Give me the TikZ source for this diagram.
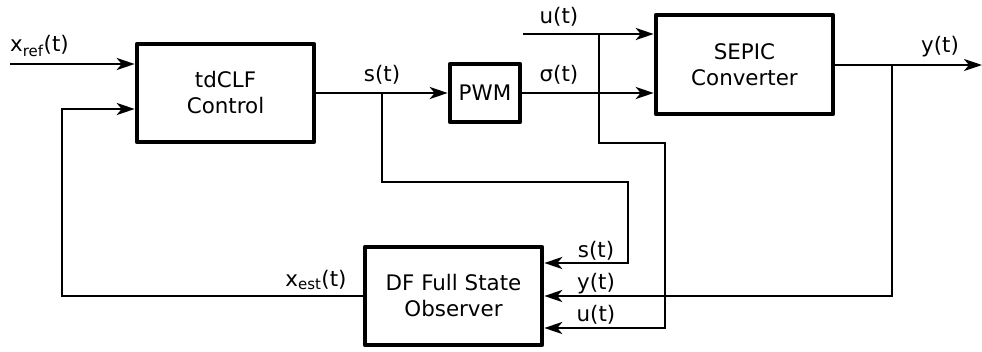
\documentclass[tikz,border=0pt]{standalone}
\usepackage{fontspec}
\setmainfont{DejaVu Sans}
\usetikzlibrary{arrows.meta}
\begin{document}
\begin{tikzpicture}[x=1pt,y=-1pt,
  blk/.style={draw, line width=4.6pt, line join=round, minimum width=177pt, minimum height=98pt,
    align=center, inner sep=0pt, font=\fontsize{21.4}{26}\selectfont},
  sig/.style={line width=2.5pt},
  arr/.style={sig, -{Stealth[length=18pt,width=12pt,inset=5pt]}},
  lbl/.style={inner sep=0pt, font=\fontsize{21.4}{26}\selectfont}]
\useasboundingbox (0,0) rectangle (982,351);
% blocks
\node[blk] (ctrl) at (225.5,93) {tdCLF\\Control};
\node[blk, minimum width=70pt, minimum height=58pt] (pwm) at (485,93) {PWM};
\node[blk, minimum height=99pt] (sepic) at (744.5,64.5) {SEPIC\\Converter};
\node[blk] (obs) at (453.5,296) {DF Full State\\Observer};
% coordinates
\coordinate (xin) at (10,64);
\coordinate (sj) at (382,93);
\coordinate (sA) at (382,182);
\coordinate (sB) at (628,182);
\coordinate (uin) at (523,34);
\coordinate (uj) at (599,34);
\coordinate (uA) at (599,143);
\coordinate (uB) at (665,143);
\coordinate (yout) at (982,65);
\coordinate (yj) at (892,65);
\coordinate (fb) at (62,296);
% connectors
\draw[arr] (xin) -- (xin -| ctrl.west);
\draw[arr] (ctrl.east) -- (pwm.west);
\draw[arr] (pwm.east) -- (pwm.east -| sepic.west);
\draw[arr] (uin) -- (uin -| sepic.west);
\draw[arr] (sepic.east |- yout) -- (yout);
\draw[arr] (sj) -- (sA) -- (sB) |- ([yshift=33pt]obs.east);
\draw[arr] (uj) -- (uA) -- (uB) |- ([yshift=-32pt]obs.east);
\draw[arr] (yj) |- (obs.east);
\draw[arr] (obs.west) -- (fb) |- ([yshift=-16pt]ctrl.west);
% labels
\node[lbl, anchor=west] (lxref) at (10,46) {x\textsubscript{ref}(t)};
\node[lbl] (ls) at (382,75) {s(t)};
\node[lbl] (lsig) at (559,75) {σ(t)};
\node[lbl] (lu) at (559,17) {u(t)};
\node[lbl] (ly) at (940,47) {y(t)};
\node[lbl] (lxest) at (316,280) {x\textsubscript{est}(t)};
\node[lbl] (los) at (596,251) {s(t)};
\node[lbl] (loy) at (596,284) {y(t)};
\node[lbl] (lou) at (596,315) {u(t)};
\end{tikzpicture}
\end{document}
